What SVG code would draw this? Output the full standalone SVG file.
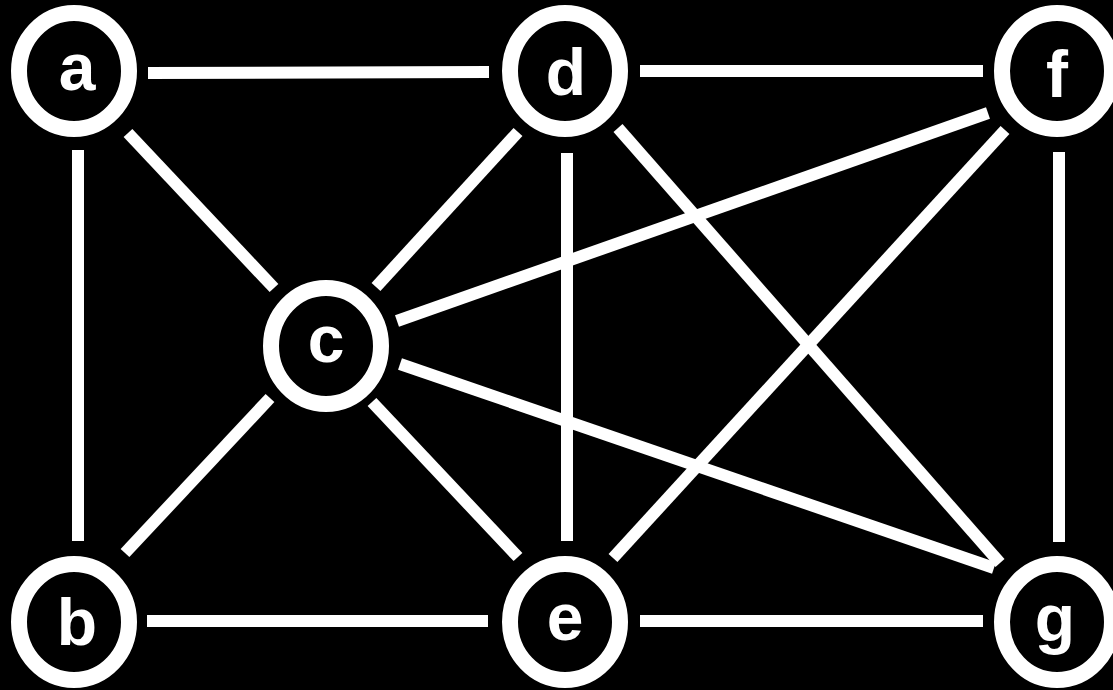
<svg xmlns="http://www.w3.org/2000/svg" width="1113" height="690" viewBox="0 0 1113 690">
<style>
.edge{stroke:#fff;stroke-width:12;stroke-linecap:butt;fill:none}
.ring{fill:#000;stroke:#fff;stroke-width:16}
.lbl{fill:#fff;font-family:"Liberation Sans",Arial,sans-serif;font-weight:bold;font-size:66px;text-anchor:middle}
</style>
<rect width="1113" height="690" fill="#000"/>
<g id="edges">
<line class="edge" x1="148" y1="73" x2="489" y2="72"/>
<line class="edge" x1="640" y1="71" x2="983" y2="71"/>
<line class="edge" x1="78" y1="150" x2="78" y2="541"/>
<line class="edge" x1="128" y1="133" x2="274" y2="288"/>
<line class="edge" x1="376" y1="287" x2="518" y2="132"/>
<line class="edge" x1="397" y1="321" x2="988" y2="113"/>
<line class="edge" x1="400" y1="364" x2="994" y2="568"/>
<line class="edge" x1="270" y1="398" x2="125" y2="553"/>
<line class="edge" x1="372" y1="402" x2="518" y2="557"/>
<line class="edge" x1="567" y1="153" x2="567" y2="541"/>
<line class="edge" x1="618" y1="128" x2="1000" y2="563"/>
<line class="edge" x1="1005" y1="130" x2="613" y2="558"/>
<line class="edge" x1="1059" y1="152" x2="1059" y2="542"/>
<line class="edge" x1="147" y1="621" x2="488" y2="621"/>
<line class="edge" x1="640" y1="621" x2="983" y2="621"/>
</g>
<g id="node-a"><ellipse class="ring" cx="74" cy="71" rx="55" ry="58"/><text class="lbl" x="77" y="90">a</text></g>
<g id="node-d"><ellipse class="ring" cx="565" cy="71" rx="55" ry="58"/><text class="lbl" x="566" y="95">d</text></g>
<g id="node-f"><ellipse class="ring" cx="1057" cy="71" rx="55" ry="58"/><text class="lbl" x="1057" y="97">f</text></g>
<g id="node-c"><ellipse class="ring" cx="326" cy="346" rx="55" ry="58"/><text class="lbl" x="326" y="362">c</text></g>
<g id="node-b"><ellipse class="ring" cx="74" cy="622" rx="55" ry="58"/><text class="lbl" x="77" y="645">b</text></g>
<g id="node-e"><ellipse class="ring" cx="565" cy="622" rx="55" ry="58"/><text class="lbl" x="565" y="640">e</text></g>
<g id="node-g"><ellipse class="ring" cx="1057" cy="622" rx="55" ry="58"/><text class="lbl" x="1055" y="641">g</text></g>
</svg>
